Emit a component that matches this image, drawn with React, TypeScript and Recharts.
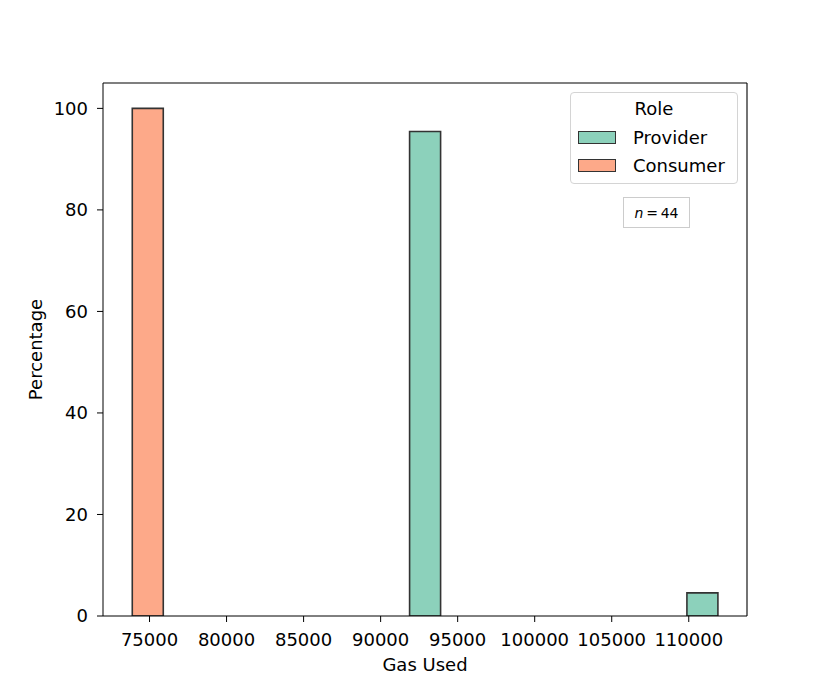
import { Bar, ComposedChart, ReferenceLine, XAxis, YAxis } from "recharts";

// histogram bins (centre of each 2000-wide bin)
const binCenters = [
  74880, 76880, 78880, 80880, 82880, 84880, 86880, 88880, 90880, 92880,
  94880, 96880, 98880, 100880, 102880, 104880, 106880, 108880, 110880
];
const providerPct = [0, 0, 0, 0, 0, 0, 0, 0, 0, 95.45, 0, 0, 0, 0, 0, 0, 0, 0, 4.55];
const consumerPct = [100, 0, 0, 0, 0, 0, 0, 0, 0, 0, 0, 0, 0, 0, 0, 0, 0, 0, 0];

const xTicks = [75000, 80000, 85000, 90000, 95000, 100000, 105000, 110000];
const yTicks = [0, 20, 40, 60, 80, 100];
const xDomain: [number, number] = [71980, 113780];
const yDomain: [number, number] = [0, 105];

const roles = ["Provider", "Consumer"];
const sampleSize = 44;

const colors: Record<string, string> = {
  Provider: "#8cd1bb",
  Consumer: "#fda989"
};
const edge = "#333333";
const font = "'DejaVu Sans', sans-serif";

const data = binCenters.map((x, i) => ({
  x,
  Provider: providerPct[i],
  Consumer: consumerPct[i]
}));

export default function App() {
  const tick = { fontSize: 18, fill: "#000", fontFamily: font };

  return (
    <div style={{ position: "absolute", left: 0, top: 0, width: 830, height: 692, background: "#fff", fontFamily: font }}>
      <ComposedChart
        width={830}
        height={692}
        data={data}
        barCategoryGap={0}
        barGap={0}
        margin={{ top: 83, right: 83, bottom: 46, left: 43 }}
      >
        <XAxis
          dataKey="x"
          type="number"
          domain={xDomain}
          ticks={xTicks}
          allowDataOverflow
          height={30}
          tickSize={6}
          tickMargin={11}
          tick={tick}
          stroke="#000"
          label={{
            content: (p: any) => (
              <text
                x={p.viewBox.x + p.viewBox.width / 2}
                y={p.viewBox.y + 54.5}
                textAnchor="middle"
                fontSize={18}
                fontFamily={font}
                fill="#000"
              >
                Gas Used
              </text>
            )
          }}
        />
        <YAxis
          type="number"
          domain={yDomain}
          ticks={yTicks}
          allowDataOverflow
          width={60}
          tickSize={6}
          tickMargin={9}
          tick={tick}
          stroke="#000"
          label={{
            content: (p: any) => {
              const cx = p.viewBox.x - 8;
              const cy = p.viewBox.y + p.viewBox.height / 2;
              return (
                <text
                  x={cx}
                  y={cy}
                  transform={`rotate(-90, ${cx}, ${cy})`}
                  textAnchor="middle"
                  dominantBaseline="central"
                  fontSize={18}
                  fontFamily={font}
                  fill="#000"
                >
                  Percentage
                </text>
              );
            }
          }}
        />
        <ReferenceLine y={105} stroke="#000" strokeWidth={1.1} />
        <ReferenceLine x={113780} stroke="#000" strokeWidth={1.1} />
        {roles.map((r) => (
          <Bar
            key={r}
            dataKey={r}
            stackId="hist"
            fill={colors[r]}
            stroke={edge}
            strokeWidth={1.6}
            isAnimationActive={false}
          />
        ))}
      </ComposedChart>

      {/* legend */}
      <div
        style={{
          position: "absolute",
          left: 570,
          top: 92,
          width: 166,
          height: 90,
          border: "1px solid #d4d4d4",
          borderRadius: 4,
          background: "rgba(255,255,255,0.8)",
          fontSize: 18
        }}
      >
        <div style={{ position: "absolute", left: 0, width: 166, top: 5, textAlign: "center", lineHeight: "22px" }}>Role</div>
        {roles.map((r, i) => (
          <div key={r}>
            <div
              style={{
                position: "absolute",
                left: 7,
                top: 38 + i * 28,
                width: 36,
                height: 11,
                background: colors[r],
                border: `1.6px solid ${edge}`
              }}
            />
            <div style={{ position: "absolute", left: 62, top: 34 + i * 28, lineHeight: "22px" }}>{r}</div>
          </div>
        ))}
      </div>

      {/* sample size box */}
      <div
        style={{
          position: "absolute",
          left: 623,
          top: 197,
          width: 65,
          height: 29,
          border: "1px solid #cccccc",
          fontSize: 14,
          display: "flex",
          alignItems: "center",
          justifyContent: "center"
        }}
      >
        <span>
          <i>n</i>&thinsp;=&thinsp;{sampleSize}
        </span>
      </div>
    </div>
  );
}
